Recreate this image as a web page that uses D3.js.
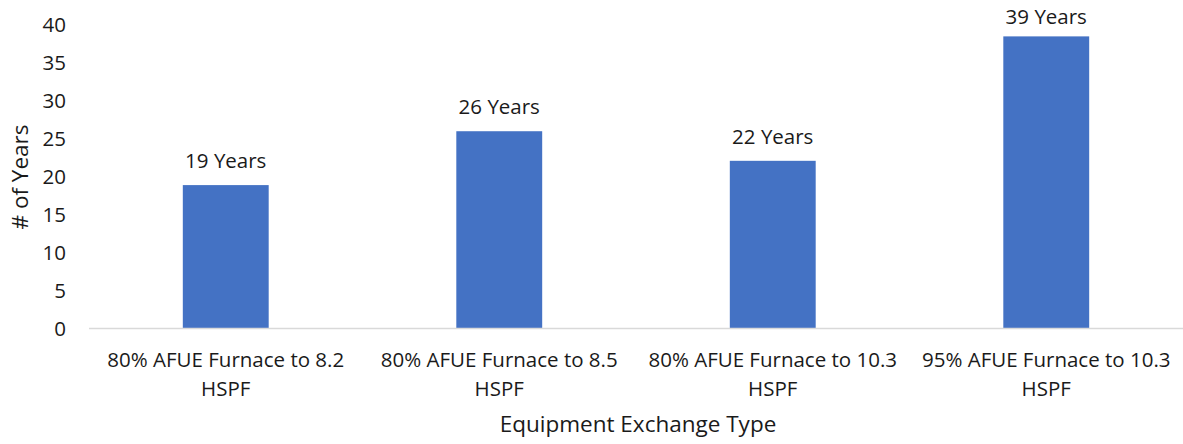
<!DOCTYPE html>
<html lang="en">
<head>
  <meta charset="utf-8">
  <title>Equipment Exchange Type - # of Years</title>
  <script src="https://cdnjs.cloudflare.com/ajax/libs/d3/7.8.5/d3.min.js"></script>
  <style>
    body { margin: 0; background: #fff; }
    svg text { font-family: "Open Sans", sans-serif; fill: #1a1a1a; }
    .axis path, .axis line { display: none; }
  </style>
</head>
<body>
<svg id="chart"></svg>
<script>
var categories = [
  ["80% AFUE Furnace to 8.2", "HSPF"],
  ["80% AFUE Furnace to 8.5", "HSPF"],
  ["80% AFUE Furnace to 10.3", "HSPF"],
  ["95% AFUE Furnace to 10.3", "HSPF"]
];
var years = [18.9, 26, 22.1, 38.5];
var yTicks = [0, 5, 10, 15, 20, 25, 30, 35, 40];

var w = 1183, h = 444;
var plotLeft = 89, plotRight = 1183, plotTop = 25, plotBottom = 328.5;
var labelSize = "20.5px";

var svg = d3.select("#chart").attr("width", w).attr("height", h);

var xScale = d3.scaleBand().domain(d3.range(categories.length)).range([plotLeft, plotRight]).paddingInner(0.686).paddingOuter(0.343);
var yScale = d3.scaleLinear().domain([0, 40]).range([plotBottom, plotTop]);

//bars
svg.selectAll("rect.bar").data(years)
  .enter().append("rect")
  .attr("class", "bar")
  .attr("x", function(d, i) { return xScale(i); })
  .attr("y", function(d) { return yScale(d); })
  .attr("width", xScale.bandwidth())
  .attr("height", function(d) { return plotBottom - yScale(d); })
  .attr("fill", "#4472C4");

//baseline
svg.append("line")
  .attr("x1", plotLeft).attr("x2", plotRight)
  .attr("y1", plotBottom).attr("y2", plotBottom)
  .attr("stroke", "#d9d9d9").attr("stroke-width", 1.5);

//y axis
var yAxis = d3.axisLeft(yScale).tickValues(yTicks).tickSize(0).tickPadding(0);
svg.append("g")
  .attr("class", "axis")
  .attr("transform", "translate(66,0)")
  .call(yAxis)
  .selectAll("text")
  .attr("font-family", null)
  .style("font-size", labelSize);

//x axis with two-line labels
var xAxis = d3.axisBottom(xScale).tickSize(0).tickFormat("");
var gx = svg.append("g")
  .attr("class", "axis")
  .attr("transform", "translate(0," + plotBottom + ")")
  .call(xAxis);
gx.selectAll(".tick").append("text")
  .attr("text-anchor", "middle")
  .style("font-size", labelSize)
  .selectAll("tspan")
  .data(function(i) { return categories[i]; })
  .enter().append("tspan")
  .attr("x", 0)
  .attr("y", function(d, j) { return 38 + j * 29; })
  .text(function(d) { return d; });

//value labels (kept inside the top edge, like the original)
svg.selectAll("text.value").data(years)
  .enter().append("text")
  .attr("class", "value")
  .attr("x", function(d, i) { return xScale(i) + xScale.bandwidth() / 2; })
  .attr("y", function(d) { return Math.max(yScale(d) - 17, 24); })
  .attr("text-anchor", "middle")
  .style("font-size", labelSize)
  .text(function(d) { return d3.format(".0f")(d) + " Years"; });

//axis titles
svg.append("text")
  .attr("x", -177)
  .attr("y", 28)
  .attr("transform", "rotate(-90)")
  .attr("text-anchor", "middle")
  .style("font-size", "22.5px")
  .text("# of Years");

svg.append("text")
  .attr("x", 638)
  .attr("y", 432)
  .attr("text-anchor", "middle")
  .style("font-size", "22.5px")
  .text("Equipment Exchange Type");
</script>
</body>
</html>
